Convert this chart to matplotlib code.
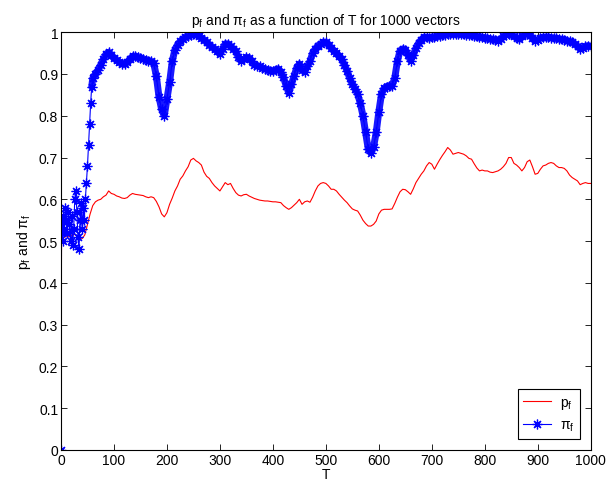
import numpy as np
import matplotlib
matplotlib.use("Agg")
from matplotlib import pyplot as plt

# Data
t_pi = [0, 1, 2, 3, 4, 6, 8, 10, 12, 14, 16, 18, 20, 22, 24, 26, 28, 30, 32, 34,
        36, 38, 40, 42, 44, 46, 48, 50, 52, 54, 56, 58] + list(range(60, 1001, 5))
pi_f = [0.0, 0.52, 0.55, 0.50, 0.56, 0.53, 0.58, 0.55, 0.52, 0.57, 0.54, 0.50, 0.56, 0.49,
        0.53, 0.60, 0.62, 0.57, 0.51, 0.48, 0.55, 0.59, 0.53, 0.58, 0.55, 0.60, 0.64, 0.68,
        0.73, 0.78, 0.83, 0.87,
        # 60 .. 1000 step 5
        0.89, 0.90, 0.91, 0.922, 0.935, 0.948, 0.952, 0.945, 0.938, 0.933,
        0.928, 0.925, 0.924, 0.928, 0.936, 0.942, 0.942, 0.94, 0.938, 0.936,
        0.934, 0.932, 0.93, 0.926, 0.895, 0.845, 0.815, 0.80, 0.84, 0.88,
        0.93, 0.958, 0.97, 0.978, 0.984, 0.988, 0.99, 0.993, 0.996, 0.995,
        0.992, 0.986, 0.982, 0.976, 0.97, 0.965, 0.96, 0.955, 0.948, 0.96,
        0.972, 0.972, 0.966, 0.96, 0.955, 0.94, 0.932, 0.935, 0.94, 0.938,
        0.93, 0.922, 0.92, 0.918, 0.914, 0.912, 0.91, 0.908, 0.906, 0.91,
        0.912, 0.905, 0.892, 0.872, 0.855, 0.875, 0.895, 0.915, 0.924, 0.91,
        0.905, 0.918, 0.93, 0.95, 0.96, 0.968, 0.972, 0.976, 0.976, 0.97,
        0.962, 0.956, 0.95, 0.942, 0.935, 0.922, 0.908, 0.89, 0.876, 0.865,
        0.852, 0.83, 0.80, 0.76, 0.72, 0.712, 0.725, 0.76, 0.81, 0.852,
        0.866, 0.87, 0.872, 0.872, 0.89, 0.93, 0.956, 0.96, 0.958, 0.945,
        0.932, 0.945, 0.962, 0.974, 0.982, 0.988, 0.988, 0.986, 0.988, 0.988,
        0.99, 0.992, 0.993, 0.994, 0.995, 0.996, 0.996, 0.996, 0.996, 0.995,
        0.995, 0.994, 0.994, 0.993, 0.992, 0.99, 0.988, 0.988, 0.986, 0.985,
        0.984, 0.983, 0.981, 0.98, 0.984, 0.99, 0.994, 0.996, 0.995, 0.99,
        0.986, 0.984, 0.99, 0.995, 0.996, 0.994, 0.986, 0.98, 0.982, 0.986,
        0.988, 0.988, 0.988, 0.987, 0.986, 0.985, 0.984, 0.983, 0.982, 0.98,
        0.978, 0.976, 0.972, 0.966, 0.96, 0.962, 0.966, 0.968, 0.966]

t_p = [0, 1] + list(range(5, 1001, 5))
p_f = [0.0, 0.51,
       # 5 .. 1000 step 5
       0.508, 0.512, 0.51, 0.514, 0.516, 0.512, 0.51, 0.506, 0.515, 0.54,
       0.565, 0.585, 0.594, 0.598, 0.60, 0.606, 0.61, 0.62, 0.614, 0.612,
       0.608, 0.606, 0.603, 0.602, 0.604, 0.61, 0.614, 0.612, 0.611, 0.61,
       0.609, 0.606, 0.604, 0.606, 0.604, 0.595, 0.582, 0.565, 0.558, 0.568,
       0.588, 0.603, 0.62, 0.632, 0.648, 0.656, 0.668, 0.678, 0.694, 0.698,
       0.692, 0.688, 0.682, 0.665, 0.655, 0.65, 0.64, 0.632, 0.626, 0.62,
       0.63, 0.64, 0.635, 0.638, 0.626, 0.616, 0.61, 0.608, 0.611, 0.612,
       0.608, 0.605, 0.602, 0.60, 0.598, 0.597, 0.596, 0.596, 0.595, 0.594,
       0.594, 0.593, 0.592, 0.585, 0.58, 0.576, 0.58, 0.586, 0.592, 0.60,
       0.588, 0.594, 0.596, 0.593, 0.605, 0.62, 0.632, 0.638, 0.64, 0.638,
       0.632, 0.624, 0.624, 0.62, 0.612, 0.605, 0.598, 0.592, 0.584, 0.577,
       0.574, 0.572, 0.562, 0.55, 0.542, 0.536, 0.536, 0.54, 0.548, 0.565,
       0.574, 0.576, 0.576, 0.576, 0.577, 0.59, 0.605, 0.618, 0.624, 0.623,
       0.618, 0.612, 0.625, 0.64, 0.65, 0.66, 0.668, 0.68, 0.688, 0.684,
       0.672, 0.684, 0.695, 0.705, 0.714, 0.724, 0.718, 0.708, 0.71, 0.712,
       0.71, 0.708, 0.704, 0.698, 0.696, 0.685, 0.675, 0.668, 0.67, 0.668,
       0.668, 0.665, 0.664, 0.666, 0.668, 0.672, 0.678, 0.686, 0.70, 0.70,
       0.686, 0.682, 0.676, 0.668, 0.676, 0.69, 0.694, 0.678, 0.66, 0.662,
       0.672, 0.68, 0.682, 0.686, 0.688, 0.686, 0.68, 0.676, 0.676, 0.674,
       0.668, 0.658, 0.652, 0.648, 0.644, 0.635, 0.638, 0.64, 0.638, 0.638]

x_ticks = list(range(0, 1001, 100))
y_ticks = [0, 0.1, 0.2, 0.3, 0.4, 0.5, 0.6, 0.7, 0.8, 0.9, 1]
y_tick_labels = ['0', '0.1', '0.2', '0.3', '0.4', '0.5', '0.6', '0.7', '0.8', '0.9', '1']

plt.rcParams['font.family'] = ['Liberation Sans', 'DejaVu Sans']
plt.rcParams['font.size'] = 10
plt.rcParams['mathtext.fontset'] = 'custom'
plt.rcParams['mathtext.rm'] = 'Liberation Sans'
plt.rcParams['mathtext.it'] = 'Liberation Sans'
plt.rcParams['mathtext.default'] = 'regular'

fig = plt.figure(figsize=(6.16, 4.81), dpi=100)
ax = fig.add_axes([0.099, 0.0624, 0.86, 0.8686])

ax.plot(t_p, p_f, color='red', lw=0.8, label='$p_f$')

# dense part of pi_f: markers overlap into a solid band in the original
n0 = t_pi.index(58)
ax.plot(t_pi[n0:], pi_f[n0:], color='blue', lw=5, alpha=0.9,
        solid_joinstyle='round', solid_capstyle='round')
ax.plot(t_pi, pi_f, color='blue', lw=0.8, marker=(8, 2, 0), markersize=7,
        markeredgewidth=0.9, label=r'$\pi_f$')

ax.set_xlim(0, 1000)
ax.set_ylim(0, 1)
ax.set_xticks(x_ticks)
ax.set_yticks(y_ticks)
ax.set_yticklabels(y_tick_labels)
ax.tick_params(direction='in', top=True, right=True, length=4, width=0.6, pad=2,
               labelsize=10)
for s in ax.spines.values():
    s.set_linewidth(0.8)

ax.set_xlabel('T', labelpad=0)
ax.set_ylabel(r'$p_f$ and $\pi_f$', labelpad=4)
ax.set_title(r'$p_f$ and $\pi_f$ as a function of T for 1000 vectors', fontsize=10, pad=6)

leg = ax.legend(loc='lower right', fancybox=False, framealpha=1, edgecolor='black',
                borderaxespad=0.8, handlelength=2.0, handletextpad=0.6,
                borderpad=0.4, fontsize=10)
leg.get_frame().set_linewidth(0.8)

fig.savefig('out.png', dpi=100, facecolor='white')
